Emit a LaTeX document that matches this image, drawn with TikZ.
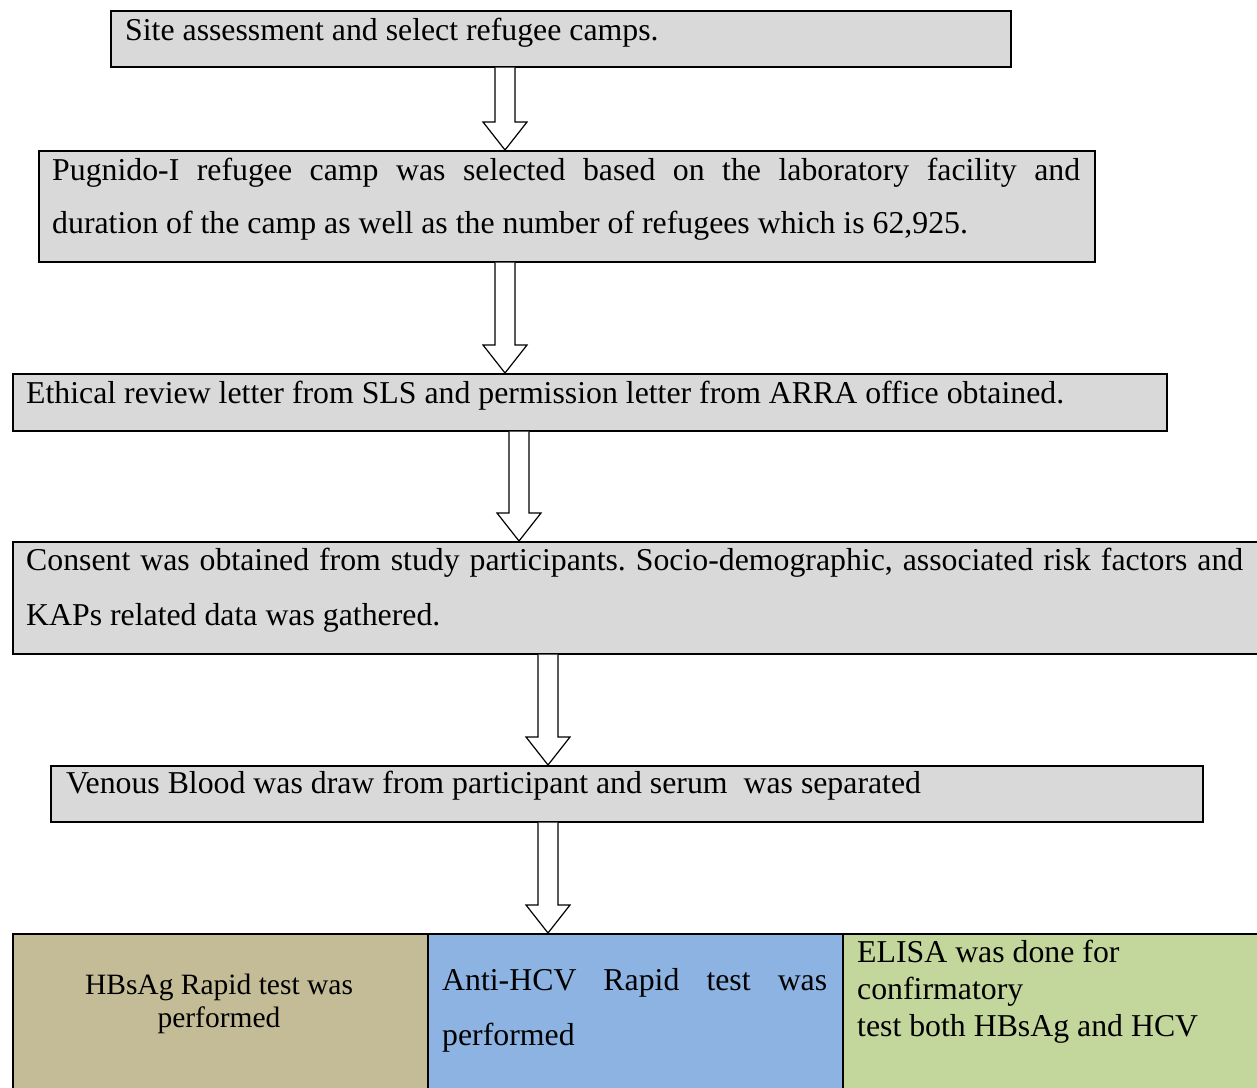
\documentclass[tikz,border=0pt]{standalone}
\usepackage{fontspec}
\setmainfont{Liberation Serif}
\usetikzlibrary{calc}
\definecolor{boxgray}{HTML}{D9D9D9}
\definecolor{boxtan}{HTML}{C4BC96}
\definecolor{boxblue}{HTML}{8DB3E2}
\definecolor{boxgreen}{HTML}{C3D69B}
\frenchspacing
\newcommand\blockarrow[3]{%
  \draw[arrowline] let \p1=(#2.south), \p2=(#3.north) in
   (#1pt-10pt,\y1) -- (#1pt-10pt,\y2+28pt) -- (#1pt-22pt,\y2+28pt) -- (#1pt,\y2)
   -- (#1pt+22pt,\y2+28pt) -- (#1pt+10pt,\y2+28pt) -- (#1pt+10pt,\y1);}
\begin{document}
\begin{tikzpicture}[x=1pt,y=-1pt,
  stepbox/.style={draw=black, line width=1.5pt, fill=boxgray, inner sep=0pt, anchor=north west},
  testbox/.style={draw=black, line width=1.5pt, inner sep=0pt, anchor=north west},
  txt/.style={inner sep=0pt, anchor=base west, font=\fontsize{31.8}{32}\selectfont},
  ctxt/.style={inner sep=0pt, anchor=base, font=\fontsize{29.5}{30}\selectfont},
  arrowline/.style={draw=black, line width=1.2pt, fill=white}]
\useasboundingbox (0,0) rectangle (1257,1087);
% boxes
\node[stepbox, minimum width=900pt, minimum height=56pt] (b1) at (110,10) {};
\node[stepbox, minimum width=1056pt, minimum height=111pt] (b2) at (38,150) {};
\node[stepbox, minimum width=1154pt, minimum height=57pt] (b3) at (12,373) {};
\node[stepbox, minimum width=1260pt, minimum height=112pt] (b4) at (12,541) {};
\node[stepbox, minimum width=1152pt, minimum height=56pt] (b5) at (50,765) {};
\node[testbox, fill=boxtan, minimum width=415pt, minimum height=170pt] (c1) at (12,933) {};
\node[testbox, fill=boxblue, minimum width=415pt, minimum height=170pt] (c2) at (427,933) {};
\node[testbox, fill=boxgreen, minimum width=430pt, minimum height=170pt] (c3) at (842,933) {};
% texts
\node[txt] (t1) at (125,40) {Site assessment and select refugee camps.};
\node[txt] (t2a) at (52,180) {\makebox[1028pt][s]{Pugnido-I refugee camp was selected based on the laboratory facility and}};
\node[txt] (t2b) at (52,233) {duration of the camp as well as the number of refugees which is 62,925.};
\node[txt] (t3) at (26,403) {Ethical review letter from SLS and permission letter from ARRA office obtained.};
\node[txt] (t4a) at (26,570) {\makebox[1217pt][s]{Consent was obtained from study participants. Socio-demographic, associated risk factors and}};
\node[txt] (t4b) at (26,625) {KAPs related data was gathered.};
\node[txt] (t5) at (66,793) {Venous Blood was draw from participant and serum\ \ was separated};
\node[ctxt] (t6a) at (219,994) {HBsAg Rapid test was};
\node[ctxt] (t6b) at (219,1027) {performed};
\node[txt] (t7a) at (442,990) {\makebox[385pt][s]{Anti-HCV Rapid test was}};
\node[txt] (t7b) at (442,1045) {performed};
\node[txt] (t8a) at (857,962) {ELISA was done for};
\node[txt] (t8b) at (857,999) {confirmatory};
\node[txt] (t8c) at (857,1036) {test both HBsAg and HCV};
% arrows
\blockarrow{505}{b1}{b2}
\blockarrow{505}{b2}{b3}
\blockarrow{519}{b3}{b4}
\blockarrow{548}{b4}{b5}
\blockarrow{548}{b5}{c2}
\end{tikzpicture}
\end{document}
